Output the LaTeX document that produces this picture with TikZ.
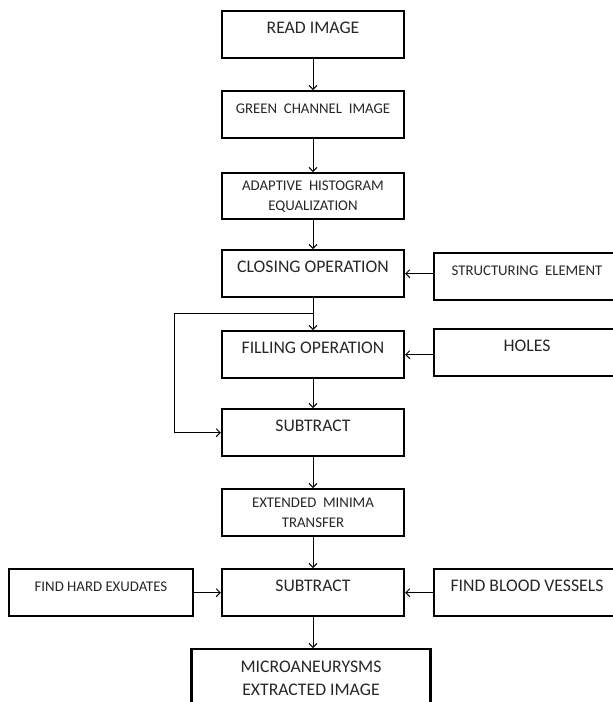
\documentclass[tikz,border=0pt]{standalone}
\usepackage{fontspec}
\setmainfont{Carlito}
\usetikzlibrary{arrows.meta}

\begin{document}
\begin{tikzpicture}[
  x=1pt, y=-1pt,
  >={Straight Barb[length=4pt,width=8pt]},
  block/.style = {
    draw,
    shape=rectangle,
    line width=2.4pt,
    anchor=north,
    inner xsep=0pt,
    inner ysep=0pt,
    minimum width=182pt,
    align=center,
    text=black!85,
    font=\fontsize{17.7pt}{23pt}\selectfont
  },
  oneline/.style = {text height=22.5pt, text depth=24.5pt},
  smalltext/.style = {font=\fontsize{14.8pt}{20pt}\selectfont},
  flow/.style = {->, line width=0.9pt},
]
  \useasboundingbox (0,0) rectangle (613,702);

  \node (read)[block, oneline] at (313,10) {READ IMAGE};
  \node (green)[block, oneline, smalltext] at (313,90) {GREEN\ \ CHANNEL\ \ IMAGE};
  \node (adaptive)[
    block,
    smalltext,
    minimum height=46pt
  ] at (313,172) {ADAPTIVE\ \ HISTOGRAM\\EQUALIZATION};
  \node (closing)[block, oneline] at (313,249) {CLOSING OPERATION};
  \node (filling)[block, oneline] at (313,330) {FILLING OPERATION};
  \node (sub1)[block, oneline] at (313,408) {SUBTRACT};
  \node (extended)[
    block,
    smalltext,
    minimum height=47pt
  ] at (313,488) {EXTENDED\ \ MINIMA\\TRANSFER};
  \node (sub2)[block, oneline] at (313,568) {SUBTRACT};
  \node (micro)[
    block,
    minimum width=239pt,
    minimum height=59pt
  ] at (311,648) {MICROANEURYSMS\\EXTRACTED IMAGE};

  % inputs from the side
  \node (struct)[
    block,
    oneline,
    smalltext,
    minimum width=186pt
  ] at (527,252) {STRUCTURING\ \ ELEMENT};
  \node (holes)[block, oneline, minimum width=186pt] at (527,328) {HOLES};
  \node (hard)[
    block,
    oneline,
    smalltext,
    minimum width=184pt
  ] at (101,568) {FIND HARD EXUDATES};
  \node (blood)[block, oneline, minimum width=186pt] at (527,568) {FIND BLOOD VESSELS};

  \draw[flow] (read)     -- (green);
  \draw[flow] (green)    -- (adaptive);
  \draw[flow] (adaptive) -- (closing);
  \draw[flow] (closing)  -- (filling);
  \draw[flow] (filling)  -- (sub1);
  \draw[flow] (sub1)     -- (extended);
  \draw[flow] (extended) -- (sub2);
  \draw[flow] (sub2)     -- (sub2 |- micro.north);

  \draw[flow] (struct.west |- closing.east) -- (closing.east);
  \draw[flow] (holes.west |- filling.east)  -- (filling.east);
  \draw[flow] (hard.east |- sub2.west)      -- (sub2.west);
  \draw[flow] (blood.west |- sub2.east)     -- (sub2.east);

  \coordinate (branch) at (313,313);
  \coordinate (loop) at (174,313);
  \draw[flow] (branch) -- (loop) |- (sub1.west);
\end{tikzpicture}
\end{document}
